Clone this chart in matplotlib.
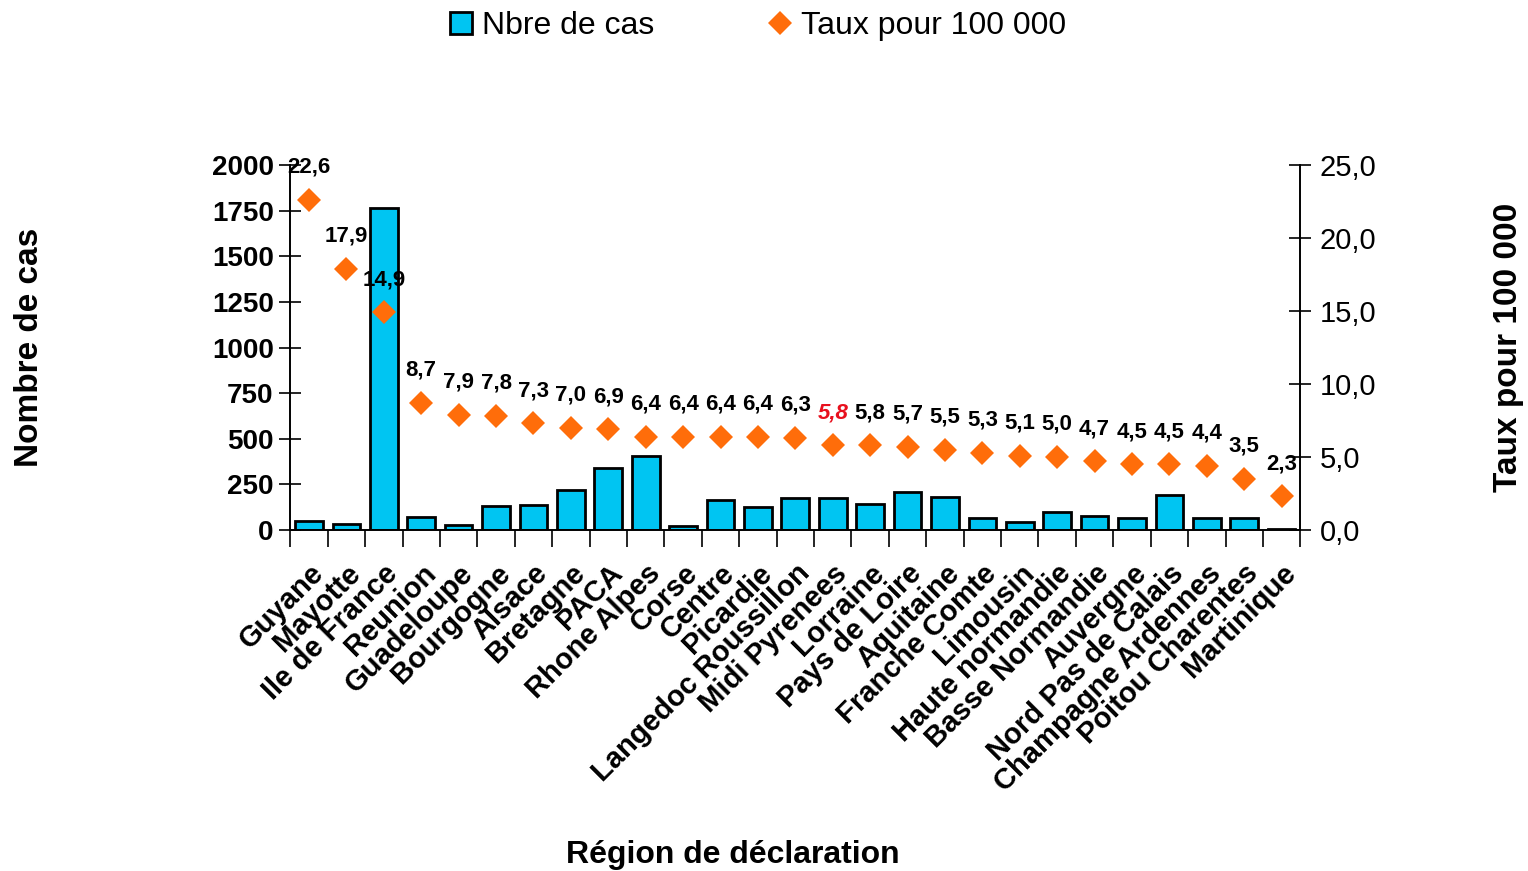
import numpy as np
import matplotlib
matplotlib.use("Agg")
import matplotlib.pyplot as plt

plt.rcParams['font.family'] = ['Liberation Sans', 'DejaVu Sans']
plt.rcParams['axes.linewidth'] = 1.2

# data
regions = ["Guyane", "Mayotte", "Ile de France", "Reunion", "Guadeloupe", "Bourgogne",
           "Alsace", "Bretagne", "PACA", "Rhone Alpes", "Corse", "Centre", "Picardie",
           "Langedoc Roussillon", "Midi Pyrenees", "Lorraine", "Pays de Loire", "Aquitaine",
           "Franche Comte", "Limousin", "Haute normandie", "Basse Normandie", "Auvergne",
           "Nord Pas de Calais", "Champagne Ardennes", "Poitou Charentes", "Martinique"]
cas = [52, 34, 1763, 74, 28, 129, 137, 220, 340, 408, 22, 166, 126,
       175, 175, 142, 210, 182, 68, 43, 96, 75, 65, 190, 65, 65, 6]
taux = [22.6, 17.9, 14.9, 8.7, 7.9, 7.8, 7.3, 7.0, 6.9, 6.4, 6.4, 6.4, 6.4,
        6.3, 5.8, 5.8, 5.7, 5.5, 5.3, 5.1, 5.0, 4.7, 4.5, 4.5, 4.4, 3.5, 2.3]
highlight = "Midi Pyrenees"

x = np.arange(len(regions))

fig = plt.figure(figsize=(15.28, 8.71), dpi=100)
ax = fig.add_axes([0.19, 0.3915, 0.661, 0.419])
ax2 = ax.twinx()

bars = ax.bar(x, cas, width=0.74, color='#00c5f2', edgecolor='black', linewidth=2,
              label='Nbre de cas', zorder=2)
pts, = ax2.plot(x, taux, 'D', color='#ff6d0a', markersize=12, markeredgewidth=0,
                label='Taux pour 100 000', zorder=3)

for xi, t, r in zip(x, taux, regions):
    txt = f"{t:.1f}".replace('.', ',')
    if r == highlight:
        ax2.annotate(txt, (xi, t), xytext=(0, 16), textcoords='offset points',
                     ha='center', va='bottom', fontsize=16, color='#e8101e',
                     fontweight='bold', fontstyle='italic')
    else:
        ax2.annotate(txt, (xi, t), xytext=(0, 16), textcoords='offset points',
                     ha='center', va='bottom', fontsize=16, color='black',
                     fontweight='bold')

ax.set_xlim(-0.5, len(regions) - 0.5)
ax.set_ylim(0, 2000)
ax2.set_ylim(0, 25)
ax.set_yticks(np.arange(0, 2001, 250))
ax2.set_yticks(np.arange(0, 26, 5))
ax2.set_yticklabels([f"{v:.1f}".replace('.', ',') for v in np.arange(0, 26, 5)])

ax.set_xticks(x)
ax.set_xticklabels(regions, rotation=45, ha='right', rotation_mode='anchor',
                   fontsize=21, fontweight='bold')
ax.set_xticks(np.arange(-0.5, len(regions)), minor=True)
ax.tick_params(axis='x', which='major', length=0, pad=21)
ax.tick_params(axis='x', which='minor', length=12, width=1.2, direction='out')

ax.tick_params(axis='y', direction='inout', length=16, width=1.2, labelsize=20, pad=4)
for lab in ax.get_yticklabels():
    lab.set_fontweight('bold')
ax2.tick_params(axis='y', direction='inout', length=16, width=1.2, labelsize=21, pad=6)

for a in (ax, ax2):
    a.spines['top'].set_visible(False)

ax.set_ylabel('Nombre de cas', fontsize=24, fontweight='bold')
ax2.set_ylabel('Taux pour 100 000', fontsize=24, fontweight='bold')
ax.yaxis.set_label_coords(-0.243, 0.5)
ax2.yaxis.set_label_coords(1.191, 0.5)
ax2.yaxis.label.set_rotation(90)
ax.set_xlabel('Région de déclaration', fontsize=23, fontweight='bold')
ax.xaxis.set_label_coords(0.4386, -0.85)

fig.legend([bars, pts], ['Nbre de cas', 'Taux pour 100 000'], loc='upper center',
           bbox_to_anchor=(0.496, 1.02), ncol=2, frameon=False, fontsize=23,
           columnspacing=3.6, handlelength=0.7, handleheight=0.7, handletextpad=0.3)

plt.savefig('out.png', dpi=100)
